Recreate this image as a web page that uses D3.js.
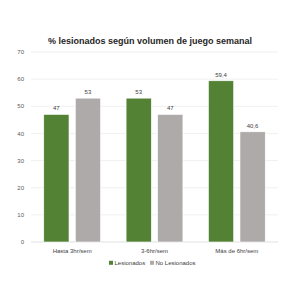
<!DOCTYPE html>
<html>
<head>
<meta charset="utf-8">
<script src="https://cdn.jsdelivr.net/npm/d3@7"></script>
<style>
  body { margin: 0; background: #fff; }
  text { font-family: "Liberation Sans", Arial, sans-serif; }
</style>
</head>
<body>
<div id="chart"></div>
<script>
const width = 300
const height = 300

const categorias = ["Hasta 3hr/sem", "3-6hr/sem", "Más de 6hr/sem"]
const series = ["Lesionados", "No Lesionados"]
const lesionados = [47, 53, 59.4]
const noLesionados = [53, 47, 40.6]
const etiquetas = ["47", "53", "59,4", "53", "47", "40,6"]
const ticks = [0, 10, 20, 30, 40, 50, 60, 70]
const colores = ["#548235", "#aeaaaa"]

const margin = {top: 52, right: 22, bottom: 58, left: 31}

const svg = d3.select("#chart").append("svg")
    .attr("width", width)
    .attr("height", height)

const x = d3.scaleBand()
    .domain(categorias)
    .range([margin.left, width - margin.right])
    .paddingInner(0.31)
    .paddingOuter(0.155)

const xs = d3.scaleBand()
    .domain(series)
    .range([0, x.bandwidth()])
    .paddingInner(0.2)

const y = d3.scaleLinear()
    .domain([0, 70])
    .range([height - margin.bottom, margin.top])

// grid
svg.append("g")
    .selectAll("line")
    .data(ticks)
    .join("line")
    .attr("x1", margin.left)
    .attr("x2", width - margin.right)
    .attr("y1", d => y(d))
    .attr("y2", d => y(d))
    .attr("stroke", d => d === 0 ? "#d9d9d9" : "#ececec")
    .attr("stroke-width", 0.8)

svg.append("g")
    .selectAll("text")
    .data(ticks)
    .join("text")
    .attr("x", 24)
    .attr("y", d => y(d))
    .attr("dy", "0.35em")
    .attr("text-anchor", "end")
    .attr("font-size", 6)
    .attr("fill", "#595959")
    .text(d => d)

const datos = categorias.map((c, i) => ({
    cat: c,
    valores: [
        {serie: series[0], v: lesionados[i], label: etiquetas[i]},
        {serie: series[1], v: noLesionados[i], label: etiquetas[i + 3]}
    ]
}))

const grupos = svg.append("g")
    .selectAll("g")
    .data(datos)
    .join("g")
    .attr("transform", d => `translate(${x(d.cat)},0)`)

grupos.selectAll("rect")
    .data(d => d.valores)
    .join("rect")
    .attr("x", d => xs(d.serie))
    .attr("width", xs.bandwidth())
    .attr("y", d => y(d.v))
    .attr("height", d => y(0) - y(d.v))
    .attr("fill", (d, i) => colores[i])
    .attr("stroke", "#ffffff")
    .attr("stroke-width", 0.6)

grupos.selectAll(".valor")
    .data(d => d.valores)
    .join("text")
    .attr("class", "valor")
    .attr("x", d => xs(d.serie) + xs.bandwidth() / 2)
    .attr("y", d => y(d.v) - 4)
    .attr("text-anchor", "middle")
    .attr("font-size", 6)
    .attr("fill", "#404040")
    .text(d => d.label)

// category labels
svg.append("g")
    .selectAll("text")
    .data(categorias)
    .join("text")
    .attr("x", d => x(d) + x.bandwidth() / 2)
    .attr("y", 253)
    .attr("text-anchor", "middle")
    .attr("font-size", 6)
    .attr("fill", "#404040")
    .text(d => d)

// title
svg.append("text")
    .attr("x", 150)
    .attr("y", 44)
    .attr("text-anchor", "middle")
    .attr("font-size", 9)
    .attr("font-weight", "bold")
    .attr("fill", "#262626")
    .text("% lesionados según volumen de juego semanal")

// legend
const legendX = [109, 150]
const legend = svg.append("g")
    .selectAll("g")
    .data(series)
    .join("g")
    .attr("transform", (d, i) => `translate(${legendX[i]},263)`)

legend.append("rect")
    .attr("x", 0)
    .attr("y", -2.2)
    .attr("width", 4)
    .attr("height", 4)
    .attr("fill", (d, i) => colores[i])

legend.append("text")
    .attr("x", 5.5)
    .attr("y", 0)
    .attr("dy", "0.35em")
    .attr("font-size", 6)
    .attr("fill", "#404040")
    .text(d => d)
</script>
</body>
</html>
